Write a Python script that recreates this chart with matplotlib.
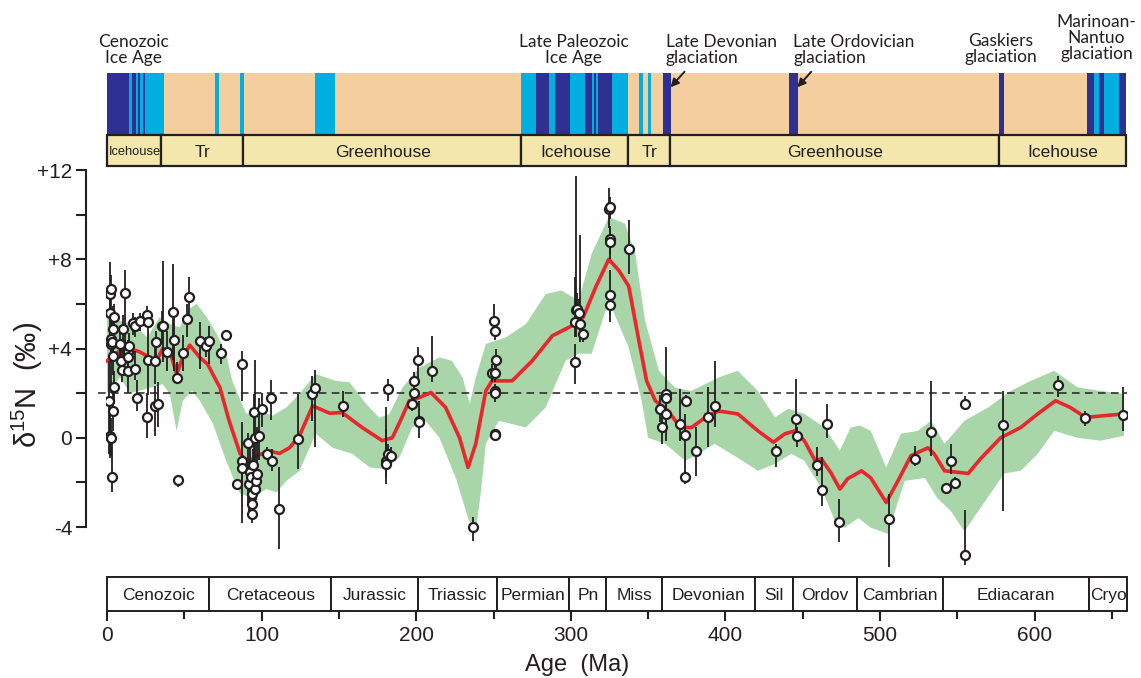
import matplotlib
matplotlib.use('Agg')
import matplotlib.pyplot as plt
from matplotlib.patches import Rectangle
from matplotlib.ticker import FixedLocator

plt.rcParams['font.family'] = ['Liberation Sans', 'DejaVu Sans']
plt.rcParams['mathtext.fontset'] = 'custom'
plt.rcParams['mathtext.rm'] = 'Liberation Sans'

# ---------------- data ----------------
# glaciation stripes (start Ma, end Ma, kind) kind: 'D' dark = major, 'L' light = minor
glac_start = [0, 14.4, 16.4, 18.5, 20.0, 21.5, 23.0, 24.5, 33.1, 69.7, 85.8, 134.8,
              267.5, 277.6, 285.8, 289.7, 299.4, 309.0, 313.8, 314.8, 316.0, 317.6, 326.7,
              343.9, 349.7, 359.4, 441.0, 576.8, 634.0, 638.5, 641.7, 645.0, 654.6]
glac_end = [14.4, 16.4, 18.5, 20.0, 21.5, 23.0, 24.5, 33.1, 36.8, 72.3, 88.4, 147.7,
            277.6, 285.8, 289.7, 299.4, 309.0, 313.8, 314.8, 316.0, 317.6, 326.7, 336.8,
            346.5, 352.0, 364.7, 447.0, 580.0, 638.5, 641.7, 645.0, 654.6, 658.9]
glac_kind = ['D', 'L', 'D', 'L', 'D', 'L', 'D', 'L', 'L', 'L', 'L', 'L',
             'L', 'D', 'L', 'D', 'L', 'D', 'L', 'D', 'L', 'D', 'L',
             'L', 'L', 'D', 'D', 'D', 'D', 'L', 'D', 'L', 'D']

glac_labels = ['Cenozoic\nIce Age', 'Late Paleozoic\nIce Age', 'Late Devonian\nglaciation',
               'Late Ordovician\nglaciation', 'Gaskiers\nglaciation', 'Marinoan-\nNantuo\nglaciation']
glac_label_x = [17.4, 302, 361.3, 443.9, 578, 640]

mode_edges = [0, 35, 88, 268, 337, 364, 577, 659]
mode_names = ['Icehouse', 'Tr', 'Greenhouse', 'Icehouse', 'Tr', 'Greenhouse', 'Icehouse']

period_edges = [0, 66, 145, 201, 252, 299, 323, 359, 419, 444, 485, 541, 635, 660]
period_names = ['Cenozoic', 'Cretaceous', 'Jurassic', 'Triassic', 'Permian', 'Pn', 'Miss',
                'Devonian', 'Sil', 'Ordov', 'Cambrian', 'Ediacaran', 'Cryo']

# smoothed mean curve
curve_age = [0, 8.4, 14.8, 21, 27.7, 32, 36, 40.6, 45, 49, 53.5, 60, 65, 73, 79, 86, 91, 97,
             105, 111.6, 118, 124.5, 133, 144, 152, 165, 178, 184.5, 190, 195.5, 202, 209.5,
             219, 228, 233.5, 238.5, 245, 249, 262, 275, 288, 303, 308, 316, 324.5, 331, 337.4,
             344, 349, 354.6, 363, 370.8, 378, 387, 395.5, 408, 421, 431, 438.5, 445, 451, 458,
             462, 468.5, 474, 479, 488, 494, 504, 511.6, 520, 531, 535, 541.7, 557, 565, 578,
             591, 602, 613.5, 623, 633, 645, 657.8]
curve_val = [3.45, 3.9, 4.0, 3.85, 3.6, 3.45, 4.0, 3.9, 2.85, 3.6, 4.15, 3.6, 3.3, 2.25, 0.75,
             -0.7, -1.1, -0.8, -0.6, -0.7, -0.45, 0.1, 1.43, 1.1, 1.13, 0.46, -0.13, 0.0, 0.8,
             1.66, 1.8, 2.03, 1.36, 0.0, -1.33, -0.27, 2.1, 2.55, 2.55, 3.45, 4.57, 5.1, 5.4,
             6.74, 8.0, 7.5, 6.8, 4.35, 2.55, 1.66, 1.2, 0.46, 0.46, 0.91, 1.2, 1.07, 0.31,
             -0.2, 0.18, 0.31, -0.13, -1.03, -0.94, -1.6, -2.3, -1.84, -1.48, -1.8, -2.9,
             -1.93, -0.8, -0.45, -0.72, -1.48, -1.6, -0.94, 0.0, 0.46, 1.07, 1.66, 1.36, 0.91,
             0.99, 1.07]

# confidence band
band_hi_age = [0, 4, 17, 26, 34, 40.6, 47, 53.5, 58, 64.5, 71, 77, 81, 90, 98.7, 107, 116,
               124.5, 135, 148, 157, 167.5, 176, 182.6, 191, 202, 215, 223, 230, 234.6, 238.5,
               245, 258, 271, 283.7, 294, 305, 313.5, 324.5, 335, 341.7, 348, 357, 367.5, 378,
               395.5, 408, 421, 432, 440.6, 451, 464, 474, 481, 487, 494, 504, 513.5, 524.5,
               533, 541.7, 554.6, 570, 584.6, 597.5, 612.7, 627.7, 642.6, 657.8]
band_hi = [5.4, 5.3, 5.1, 4.5, 5.4, 5.1, 4.95, 5.8, 6.0, 5.4, 4.66, 3.77, 2.55, 1.07, 1.2,
           0.99, 1.36, 1.97, 2.85, 2.55, 2.48, 1.52, 0.9, 1.07, 2.24, 3.14, 3.6, 3.45, 2.7,
           1.52, 2.7, 4.2, 4.5, 5.1, 6.44, 6.6, 6.14, 8.25, 9.88, 9.6, 8.25, 5.25, 3.0, 2.24,
           2.1, 2.7, 3.0, 2.1, 0.91, 1.3, 1.07, 0.46, -0.58, 0.46, 0.55, 0.31, -1.33, 0.18,
           0.31, 0.76, -0.27, 0.76, 1.36, 2.1, 2.55, 3.0, 2.26, 2.1, 1.97]
band_lo_age = [0, 8.4, 15, 27.7, 36, 40.6, 45, 49, 55, 60, 68.5, 77, 86, 94, 103, 109.6, 116,
               124.5, 135, 146, 158.7, 170, 180, 189, 197.4, 206, 215, 225.6, 234, 238.5,
               241.7, 245, 253.5, 271, 283.7, 296.6, 305, 313.5, 324.5, 337.4, 345.8, 350,
               361, 374, 382.6, 393, 408, 421, 432, 442.6, 451, 462, 470.8, 477, 486, 494,
               505, 516, 529, 537, 546, 554.6, 565, 580.4, 591, 602, 612.7, 627.7, 642.6, 657.8]
band_lo = [2.0, 2.7, 2.0, 2.24, 2.4, 1.97, 0.3, 1.66, 2.1, 1.66, 0.63, -1.03, -2.5, -2.7,
           -2.3, -2.45, -1.93, -1.48, 0.18, -0.45, -0.72, -1.33, -1.4, -0.9, 0.46, 0.76, 0.0,
           -1.8, -3.7, -4.2, -2.5, -0.27, 0.76, 0.46, 1.36, 3.45, 3.77, 3.77, 6.14, 4.05, 1.66,
           0.0, -0.27, -1.03, -0.72, -0.27, -0.9, -1.48, -1.17, -0.72, -1.03, -2.24, -3.72,
           -4.03, -3.6, -4.03, -4.3, -1.93, -1.8, -2.7, -3.3, -4.2, -3.14, -1.6, -1.48, -0.72,
           0.31, 0.0, -0.13, 0.09]

# individual measurements: age, value, error-bar low, error-bar high
pt_age = [1.5, 2.0, 2.4, 3.0, 1.8, 2.6, 1.9, 2.3, 2.8, 3.7, 4.1, 4.5, 4.0, 4.8, 3.2, 8.4, 8.8,
          9.5, 10.5, 11.6, 13.8, 13.8, 14.2, 13.8, 16.6, 18.1, 19.1, 18.1, 21.3, 25.6, 26.7,
          26.2, 25.6, 31.0, 31.0, 33.0, 31.4, 35.3, 36.3, 38.5, 42.8, 43.4, 45.0, 46.0, 49.2,
          52.0, 53.0, 60.0, 63.7, 65.8, 74.0, 77.2, 87.5, 84.3, 87.5, 87.5, 91.0, 91.8, 92.7,
          93.3, 93.8, 93.8, 94.0, 94.4, 94.8, 95.5, 96.6, 97.0, 96.0, 98.3, 100.2, 103.7,
          106.2, 106.9, 111.2, 123.4,
          132.7, 134.8, 152.5, 181.5, 180.4, 181.5, 183.7, 180.6, 197.0, 198.7, 198.7, 200.9,
          201.5, 202.0, 210.5, 236.7, 250.0, 250.9, 251.4, 249.2, 250.9, 250.9, 250.9, 250.9,
          250.9,
          302.8, 302.8, 303.5, 305.6, 304.0, 305.0, 307.7, 325.0, 325.6, 325.6, 325.6, 325.6,
          325.6, 337.9, 357.9, 359.0, 361.5, 361.5, 361.7, 370.3, 374.4, 374.0, 374.0, 381.0,
          389.0, 393.0, 433.0, 445.4, 446.0, 459.0, 462.6, 465.6, 473.3, 505.8, 522.4, 533.0,
          546.0, 542.8, 548.8, 554.7, 554.7, 579.4, 615.3, 632.7, 657.2]
pt_val = [1.66, 0.09, -0.01, -1.75, 6.44, 6.67, 5.58, 4.2, 4.42, 4.87, 3.68, 2.26, 1.21, 5.4,
          4.27, 4.2, 3.45, 3.03, 4.87, 6.47, 3.0, 3.83, 4.13, 3.6, 5.13, 3.08, 1.78, 5.02,
          5.25, 5.52, 5.17, 3.48, 0.94, 3.45, 1.43, 1.51, 4.27, 4.99, 5.02, 3.86, 5.65, 4.38,
          2.7, -1.9, 3.78, 5.32, 6.29, 4.35, 4.13, 4.35, 3.78, 4.6, 3.3, -2.05, -1.06, -1.36,
          -0.25, -2.08, -1.55, -1.75, -2.53, -2.97, -3.42, -1.23, 1.14, -2.3, -1.93, -1.63,
          0.01, 0.09, 1.29, -0.73, 1.78, -1.03, -3.2, -0.06,
          1.96, 2.21, 1.43, 2.18, -1.03, -0.73, -0.81, -1.18, 1.51, 1.99, 2.53, 3.48, 0.76,
          0.72, 3.0, -4.02, 5.25, 4.77, 3.48, 2.91, 2.91, 2.08, 2.0, 0.16, 0.13,
          3.38, 5.2, 5.74, 5.1, 5.77, 5.58, 4.65, 10.25, 10.33, 8.9, 8.76, 6.4, 5.96, 8.46,
          1.29, 0.46, 1.96, 1.78, 1.06, 0.61, 1.63, 0.12, -1.75, -0.6, 0.91, 1.43, -0.58,
          0.84, 0.07, -1.21, -2.35, 0.61, -3.77, -3.65, -0.93, 0.27, -1.03, -2.23, -2.03,
          1.51, -5.25, 0.58, 2.38, 0.87, 1.03]
pt_lo = [-0.73, -0.9, -0.8, -2.45, 5.4, 4.0, 4.5, 2.0, 3.5, 4.0, 2.8, 1.5, 0.3, 4.8, 3.4, 3.5,
         2.8, 2.5, 3.5, 3.9, 2.0, 3.3, 3.5, 3.0, 4.6, 2.6, 1.2, 4.5, 4.8, 5.1, 4.7, 1.9, 0.0,
         2.4, 0.1, 0.5, 3.5, 4.2, 3.4, 3.0, 3.5, 3.0, 2.4, -2.2, 3.0, 4.5, 5.4, 3.1, 3.6, 3.3,
         3.3, 4.4, 1.65, -2.1, -3.8, -2.0, -3.0, -3.5, -2.5, -2.2, -3.0, -3.4, -3.8, -2.0,
         -2.5, -3.0, -2.8, -2.5, -1.5, -1.0, 0.5, -1.0, 0.8, -1.5, -5.0, -1.4,
         0.76, -0.43, 0.91, 1.66, -1.78, -1.2, -1.2, -2.08, 1.2, 1.7, 1.66, 2.56, 0.01, 0.5,
         2.48, -4.62, 4.9, 4.4, 2.9, 2.5, 2.5, 1.8, 1.6, 0.0, 0.0,
         2.4, 4.5, 4.5, 4.3, 5.0, 5.0, 4.3, 9.4, 9.8, 8.2, 8.0, 5.5, 5.2, 7.34,
         0.7, -0.3, -0.13, 1.4, 0.5, -0.13, 1.4, -2.08, -2.0, -1.7, -0.43, 0.46, -1.33,
         0.3, -0.4, -1.7, -3.05, 0.01, -4.69, -5.8, -1.26, -0.81, -1.63, -2.4, -2.3,
         1.29, -5.7, -3.27, 1.81, 0.54, 0.31]
pt_hi = [3.45, 1.2, 0.9, 0.0, 7.86, 7.3, 6.8, 5.4, 5.5, 5.9, 4.6, 3.0, 2.2, 6.0, 5.0, 5.0,
         4.2, 3.6, 5.5, 7.5, 3.6, 4.4, 4.7, 4.2, 5.6, 3.9, 2.6, 5.4, 5.6, 5.9, 5.5, 4.7, 2.0,
         4.2, 2.3, 2.5, 4.8, 5.7, 7.9, 4.8, 7.8, 5.5, 3.4, -1.7, 4.6, 6.0, 7.2, 5.2, 4.5, 5.0,
         4.2, 4.8, 3.9, -2.0, 0.7, -0.8, 0.2, -1.5, 0.0, -1.2, -2.0, -2.5, -3.0, -0.5, 1.96,
         -1.5, -1.0, 0.5, 3.5, 1.8, 2.0, -0.4, 2.6, -0.5, -1.3, 1.96,
         2.78, 3.03, 2.11, 2.63, 0.39, -0.3, -0.4, 1.36, 1.8, 2.4, 2.93, 4.05, 1.66, 1.0,
         4.57, -3.57, 5.99, 5.2, 4.0, 3.3, 3.3, 2.4, 2.3, 0.4, 0.3,
         4.2, 7.2, 11.75, 9.1, 6.5, 6.2, 5.0, 11.2, 10.8, 9.5, 9.5, 7.5, 6.5, 9.76,
         1.9, 1.2, 4.05, 2.1, 1.6, 2.18, 1.9, 1.06, -1.5, 0.46, 2.26, 3.45, -0.3,
         2.63, 0.5, -0.43, -0.88, 1.51, -2.75, -2.53, -0.36, 2.56, -0.28, -2.1, -1.78,
         1.88, -3.24, 2.11, 2.78, 1.21, 2.26]

ytick_vals = [-4, 0, 4, 8, 12]
ytick_text = ['-4', '0', '+4', '+8', '+12']
xtick_vals = [0, 100, 200, 300, 400, 500, 600]

# ---------------- colours ----------------
DARK = '#2E3192'
LIGHT = '#00AEDF'
TAN = '#F4CE9E'
PALE = '#F3E7AE'
INK = '#231F20'
GREEN = '#A8D6A8'
RED = '#E8262C'

W, H = 1141, 678
fig = plt.figure(figsize=(W / 100, H / 100), dpi=100)
X0, X1 = -1, 660
LEFT = 105.5 / W
WIDTH = 1021.9 / W


def rect_px(top, bottom):
    return [LEFT, 1 - bottom / H, WIDTH, (bottom - top) / H]


# glaciation bar
ax_g = fig.add_axes(rect_px(73, 135))
ax_g.broken_barh([(0, 658.9)], (0, 1), facecolors=TAN)
ax_g.broken_barh([(s, e - s) for s, e in zip(glac_start, glac_end)], (0, 1),
                 facecolors=[DARK if k == 'D' else LIGHT for k in glac_kind])
ax_g.set_xlim(X0, X1)
ax_g.set_ylim(0, 1)
ax_g.axis('off')
label_y = [1.37, 1.37, 1.37, 1.37, 1.39, 1.56]
label_ha = ['center', 'center', 'left', 'left', 'center', 'center']
for txt, x, y, ha in zip(glac_labels, glac_label_x, label_y, label_ha):
    ax_g.text(x, y, txt, ha=ha, va='center', fontsize=12.5, family=['Lato', 'DejaVu Sans'],
              color=INK, linespacing=1.0, transform=ax_g.get_xaxis_transform(), clip_on=False)
for tail, head in [(373.5, 364.5), (455.5, 446.5)]:
    ax_g.annotate('', xy=(head, 0.77), xytext=(tail, 1.02),
                  xycoords=ax_g.get_xaxis_transform(), textcoords=ax_g.get_xaxis_transform(),
                  arrowprops=dict(arrowstyle='-|>', color=INK, lw=1.4, mutation_scale=12,
                                  shrinkA=0, shrinkB=0))

# climate mode boxes
ax_c = fig.add_axes(rect_px(135, 166))
for a, b, name in zip(mode_edges[:-1], mode_edges[1:], mode_names):
    ax_c.add_patch(Rectangle((a, 0), b - a, 1, facecolor=PALE, edgecolor=INK, lw=1.6,
                             clip_on=False, zorder=1))
    fs = 9.3 if (b - a) < 40 and name == 'Icehouse' else 12.5
    ax_c.text((a + b) / 2 + 0.5, 0.45, name, ha='center', va='center', fontsize=fs,
              color=INK, zorder=5)
ax_c.set_xlim(X0, X1)
ax_c.set_ylim(0, 1)
ax_c.axis('off')

# main panel
ax = fig.add_axes(rect_px(170, 577))
ax.set_xlim(X0, X1)
ax.set_ylim(-6.24, 12)
ax.fill(list(band_hi_age) + list(band_lo_age)[::-1], list(band_hi) + list(band_lo)[::-1],
        color=GREEN, lw=0, zorder=1)
ax.plot([-6, 660], [2, 2], ls=(0, (5, 3.5)), color=INK, lw=1.1, zorder=2, clip_on=False)
ax.plot(curve_age, curve_val, color=RED, lw=2.6, zorder=3, solid_joinstyle='round')
ax.vlines(pt_age, pt_lo, pt_hi, color=INK, lw=1.3, zorder=4)
ax.scatter(pt_age, pt_val, s=42, facecolor='white', edgecolor=INK, linewidths=1.6, zorder=5)
for side in ['top', 'right', 'bottom']:
    ax.spines[side].set_visible(False)
ax.spines['left'].set_position(('outward', 14))
ax.spines['left'].set_bounds(-4, 12)
ax.spines['left'].set_linewidth(1.5)
ax.spines['left'].set_color(INK)
ax.set_yticks(ytick_vals)
ax.set_yticklabels(ytick_text)
ax.yaxis.set_minor_locator(FixedLocator([-2, 2, 6, 10]))
ax.tick_params(axis='y', which='both', length=7, width=1.5, color=INK, labelsize=15,
               pad=3, labelcolor=INK)
ax.set_xticks([])
ax.patch.set_alpha(0)

fig.text(27 / W, 1 - 385 / H, 'δ$^{15}$N  (‰)', rotation=90, ha='center', va='center',
         fontsize=21, color=INK)

# period boxes
ax_p = fig.add_axes(rect_px(577, 611))
for a, b, name in zip(period_edges[:-1], period_edges[1:], period_names):
    ax_p.add_patch(Rectangle((a, 0), b - a, 1, facecolor='white', edgecolor=INK, lw=1.4,
                             clip_on=False))
    ax_p.text((a + b) / 2, 0.47, name, ha='center', va='center', fontsize=12.5, color=INK)
ax_p.set_xlim(X0, X1)
ax_p.set_ylim(0, 1)
for side in ['top', 'right', 'left', 'bottom']:
    ax_p.spines[side].set_visible(False)
ax_p.set_yticks([])
ax_p.set_xticks(xtick_vals)
ax_p.xaxis.set_minor_locator(FixedLocator([50, 150, 250, 350, 450, 550, 650]))
ax_p.tick_params(axis='x', which='major', length=7, width=1.5, color=INK, labelsize=15,
                 pad=4, labelcolor=INK)
ax_p.tick_params(axis='x', which='minor', length=6, width=1.5, color=INK)

fig.text(577 / W, 1 - 665 / H, 'Age  (Ma)', ha='center', va='center', fontsize=17, color=INK)

fig.savefig('out.png', dpi=100)
